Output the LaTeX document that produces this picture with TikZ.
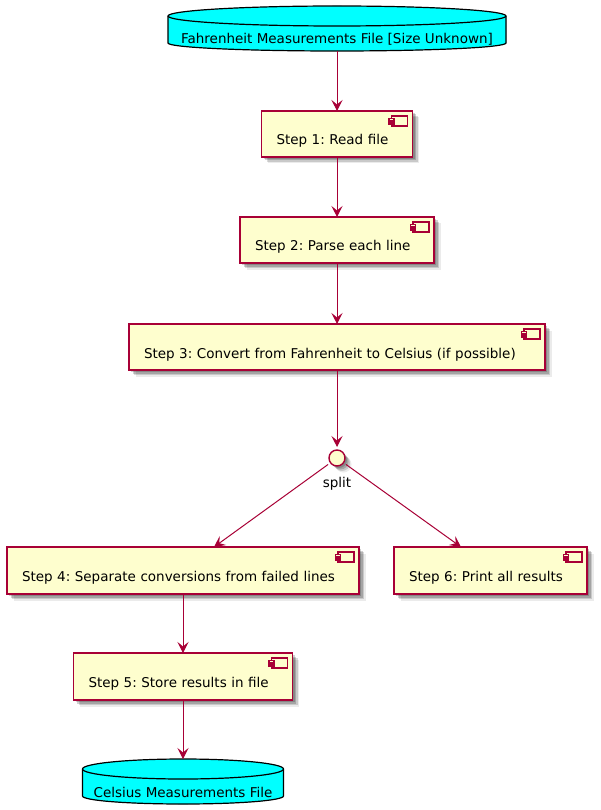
\documentclass[tikz,border=0pt]{standalone}
\usepackage{fontspec}
\setmainfont{DejaVu Sans}
\usetikzlibrary{arrows.meta,backgrounds,calc,shadows}
\definecolor{pborder}{HTML}{A80036}
\definecolor{pfill}{HTML}{FEFECE}
\definecolor{pcyan}{HTML}{00FFFF}
\frenchspacing
\newcommand{\lowered}[2]{\smash{\raisebox{#1}{#2}}}
\tikzset{
  softshadow/.style={
    general shadow={shadow xshift=2pt,shadow yshift=-2pt,fill=black,opacity=.18},
    general shadow={shadow xshift=3.5pt,shadow yshift=-3.5pt,fill=black,opacity=.18},
    general shadow={shadow xshift=5pt,shadow yshift=-5pt,fill=black,opacity=.14},
    general shadow={shadow xshift=6.5pt,shadow yshift=-6.5pt,fill=black,opacity=.08}},
  comp/.style={draw=pborder,fill=pfill,line width=1.4pt,softshadow,rectangle,inner sep=0pt,outer sep=0pt,
    inner xsep=15pt,minimum height=46pt,align=left,font=\fontsize{13.5}{16}\selectfont,anchor=north west},
  iconpart/.style={draw=pborder,fill=pfill,line width=1.1pt},
  dbtext/.style={inner sep=0pt,outer sep=0pt,font=\fontsize{13.5}{16}\selectfont,rectangle},
  link/.style={draw=pborder,line width=1pt,-{Stealth[length=11pt,width=11pt,inset=4.5pt]}},
  splitc/.style={circle,draw=pborder,fill=pfill,line width=1.4pt,minimum size=16pt,inner sep=0pt,outer sep=3pt,softshadow}
}
\newcommand{\compicon}[1]{%
  \draw[iconpart] ($(#1.north east)+(-21,5)$) rectangle ($(#1.north east)+(-5,15)$);
  \draw[iconpart] ($(#1.north east)+(-23.5,7.5)$) rectangle ($(#1.north east)+(-18.5,9.5)$);
  \draw[iconpart] ($(#1.north east)+(-23.5,11)$) rectangle ($(#1.north east)+(-18.5,13)$);
}
% name, half width
\newcommand{\dbbody}[2]{%
  ($(#1.north)+(-#2,10)$) .. controls +(0,-5.5) and +(-#2*0.55,0) .. (#1.north)
  .. controls +(#2*0.55,0) and +(0,-5.5) .. ($(#1.north)+(#2,10)$)
  -- ($(#1.south)+(#2,-8)$) .. controls +(0,4.5) and +(#2*0.55,0) .. (#1.south)
  .. controls +(-#2*0.55,0) and +(0,4.5) .. ($(#1.south)+(-#2,-8)$) -- cycle}
\newcommand{\dbshape}[2]{%
  \begin{scope}[on background layer]
  \foreach \o/\a in {2/.18,3.5/.18,5/.14,6.5/.08}{
    \fill[black,opacity=\a,shift={(\o,\o)}] \dbbody{#1}{#2};
  }
  \draw[black,fill=pcyan,line width=1.2pt] \dbbody{#1}{#2};
  \draw[black,line width=1.2pt]
    ($(#1.north)+(-#2,10)$) .. controls +(0,5.5) and +(-#2*0.55,0) .. ($(#1.north)+(0,20)$)
    .. controls +(#2*0.55,0) and +(0,5.5) .. ($(#1.north)+(#2,10)$);
  \end{scope}
}
\begin{document}
\begin{tikzpicture}[x=1pt,y=-1pt]
\useasboundingbox (0,0) rectangle (600,810);
\begin{scope}[on background layer]
\fill[white] (0,0) rectangle (600,810);
\end{scope}

\node[dbtext,minimum width=338pt,minimum height=45pt] (fahr) at (337,28.5) {\lowered{-15pt}{Fahrenheit Measurements File [Size Unknown]}};
\dbshape{fahr}{169}

\node[comp,minimum width=151pt,text width=121pt] (s1) at (261.5,111) {\lowered{-11pt}{Step 1: Read file}};
\node[comp,minimum width=194pt,text width=164pt] (s2) at (240,217) {\lowered{-11pt}{Step 2: Parse each line}};
\node[comp,minimum width=416pt,text width=386pt] (s3) at (129,324) {\lowered{-11pt}{Step 3: Convert from Fahrenheit to Celsius (if possible)}};
\node[comp,minimum width=352pt,text width=322pt,minimum height=47pt] (s4) at (7,547) {\lowered{-11pt}{Step 4: Separate conversions from failed lines}};
\node[comp,minimum width=193pt,text width=163pt,minimum height=47pt] (s6) at (394,547) {\lowered{-11pt}{Step 6: Print all results}};
\node[comp,minimum width=219pt,text width=189pt,minimum height=47pt] (s5) at (73.5,653) {\lowered{-11pt}{Step 5: Store results in file}};
\foreach \n in {s1,s2,s3,s4,s5,s6}{\compicon{\n}}

\node[splitc] (split) at (337,458) {};
\node[dbtext] (splitlabel) at (337,484) {split};

\node[dbtext,minimum width=201pt,minimum height=45pt] (cels) at (183,781.5) {\lowered{-16pt}{Celsius Measurements File}};
\dbshape{cels}{100.5}

\coordinate (in4) at (214,547);
\coordinate (in6) at (461,547);

\draw[link] (fahr.south) -- (s1.north);
\draw[link] (s1.south) -- (s2.north);
\draw[link] (s2.south) -- (s3.north);
\draw[link] (s3.south) -- (split.north);
\draw[link] (split) -- (in4);
\draw[link] (split) -- (in6);
\draw[link] (s4.south) -- (s5.north);
\draw[link] (s5.south) -- (cels.north);
\end{tikzpicture}
\end{document}
